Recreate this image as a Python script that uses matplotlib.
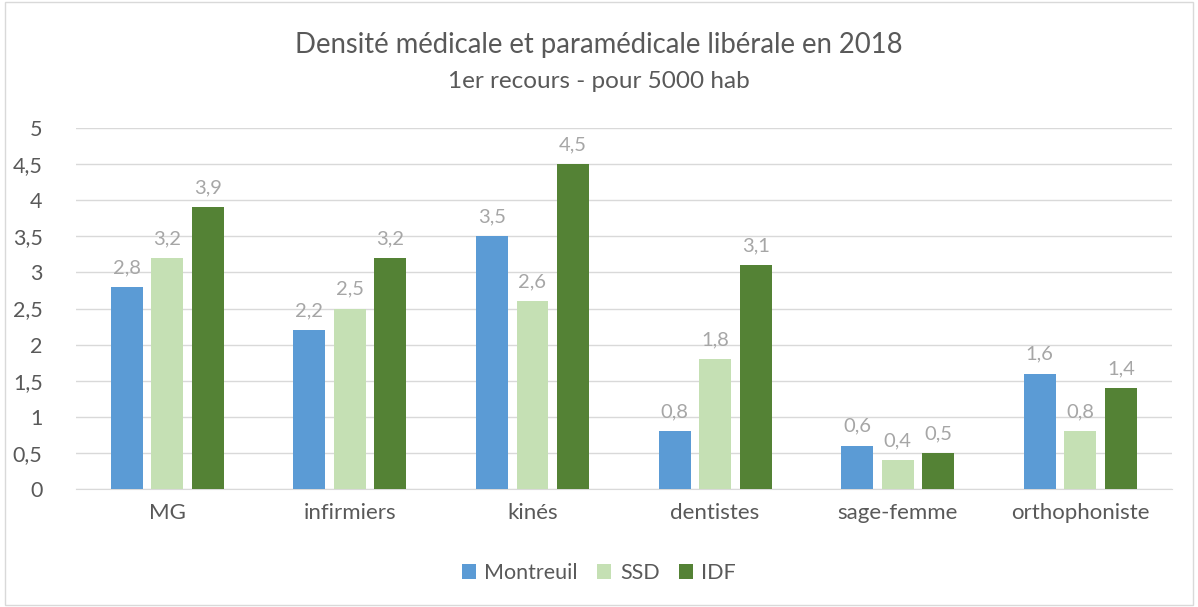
import numpy as np
import matplotlib.pyplot as plt
from matplotlib.patches import Rectangle

# Données
categories = ["MG", "infirmiers", "kinés", "dentistes", "sage-femme", "orthophoniste"]
montreuil = [2.8, 2.2, 3.5, 0.8, 0.6, 1.6]
ssd = [3.2, 2.5, 2.6, 1.8, 0.4, 0.8]
idf = [3.9, 3.2, 4.5, 3.1, 0.5, 1.4]
series = [("Montreuil", montreuil, "#5B9BD5"),
          ("SSD", ssd, "#C5E0B4"),
          ("IDF", idf, "#548235")]

plt.rcParams['font.family'] = ['Lato', 'DejaVu Sans']

fig = plt.figure(figsize=(11.98, 6.07), dpi=100)
ax = fig.add_axes([0.0634, 0.1944, 0.9146, 0.5946])

x = np.arange(len(categories))
largeur = 0.175
pas = 0.222
for i, (nom, vals, coul) in enumerate(series):
    pos = x + (i - 1) * pas
    barres = ax.bar(pos, vals, largeur, color=coul, label=nom, zorder=3)
    for b, v in zip(barres, vals):
        ax.text(b.get_x() + b.get_width() / 2, v + 0.15, str(v).replace(".", ","),
                ha="center", va="bottom", fontsize=14.5, color="#A6A6A6")

ax.set_xlim(-0.5, 5.5)
ax.set_ylim(0, 5)
yt = np.arange(0, 5.01, 0.5)
ax.set_yticks(yt)
ax.set_yticklabels([f"{v:g}".replace(".", ",") for v in yt], fontsize=15.5, color="#595959")
ax.set_xticks(x)
ax.set_xticklabels(categories, fontsize=16, color="#595959")
ax.tick_params(length=0, pad=10)
ax.tick_params(axis="y", pad=24)
ax.grid(axis="y", color="#D9D9D9", linewidth=1, zorder=0)
for s in ["top", "right", "left"]:
    ax.spines[s].set_visible(False)
ax.spines["bottom"].set_color("#D9D9D9")

fig.text(0.5, 0.926, "Densité médicale et paramédicale libérale en 2018",
         ha="center", va="center", fontsize=19.8, color="#595959")
fig.text(0.5, 0.866, "1er recours - pour 5000 hab",
         ha="center", va="center", fontsize=17.5, color="#595959")

fig.legend(loc="center", bbox_to_anchor=(0.5, 0.056), ncol=3, frameon=False,
           fontsize=15.5, handlelength=0.65, handleheight=0.65, columnspacing=0.9,
           handletextpad=0.4, labelcolor="#595959")

fig.patches.append(Rectangle((0.004, 0.004), 0.992, 0.992, transform=fig.transFigure,
                             fill=False, edgecolor="#D9D9D9", linewidth=1))

fig.savefig("out.png", dpi=100)
